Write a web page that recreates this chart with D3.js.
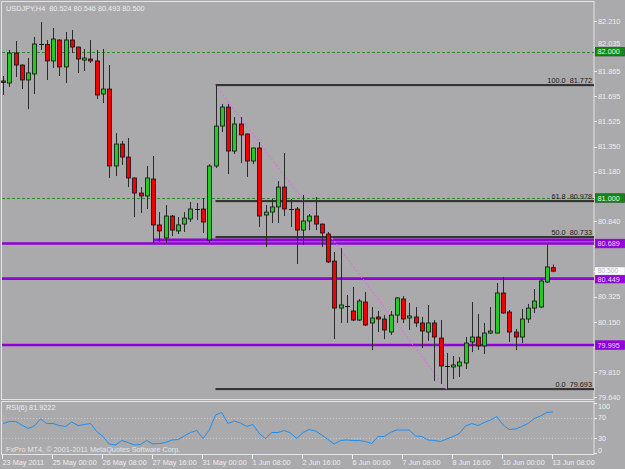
<!DOCTYPE html>
<html>
<head>
<meta charset="utf-8">
<script src="https://cdn.jsdelivr.net/npm/d3@7"></script>
<style>
  body { margin: 0; background: #aaa9ab; }
  svg { display: block; }
</style>
</head>
<body>
<div id="chart"></div>
<script>
// USDJPY H4, first bar 23 May 2011 16:00
const opens = [81.800,81.786,81.991,81.909,81.807,81.848,82.053,82.050,81.937,82.080,
  81.896,82.080,82.032,81.943,81.950,81.937,81.711,81.745,81.219,81.369,
  81.280,81.137,81.034,81.014,81.130,80.816,80.727,80.877,80.775,80.822,
  80.857,80.925,80.925,80.713,81.219,81.492,81.622,81.321,81.506,81.438,
  81.253,81.342,80.884,80.904,80.939,81.075,80.925,80.925,80.781,80.843,
  80.877,80.822,80.754,80.569,80.248,80.262,80.228,80.166,80.289,80.146,
  80.187,80.173,80.084,80.200,80.310,80.180,80.187,80.146,80.084,80.146,
  80.043,79.852,79.845,79.852,79.872,80.016,80.050,79.989,80.077,80.077,
  80.351,80.221,80.084,80.050,80.173,80.248,80.255,80.426,80.524];
const highs = [81.834,82.012,82.073,81.915,81.957,82.101,82.203,82.080,82.162,82.085,
  82.135,82.148,82.035,82.019,82.080,82.012,82.019,81.909,81.444,81.390,
  81.410,81.140,81.075,81.219,81.287,80.904,80.952,80.884,80.870,80.904,
  80.973,80.966,81.000,81.232,81.772,81.643,81.643,81.554,81.554,81.440,
  81.345,81.383,80.952,80.993,81.116,81.308,80.993,80.939,81.021,80.891,
  81.007,80.825,80.768,80.631,80.658,80.337,80.392,80.310,80.358,80.255,
  80.228,80.200,80.228,80.323,80.330,80.283,80.255,80.187,80.269,80.166,
  80.166,79.941,79.920,79.913,80.050,80.289,80.207,80.146,80.255,80.419,
  80.460,80.235,80.105,80.241,80.276,80.378,80.447,80.685,80.546];
const lows = [81.704,81.759,81.827,81.745,81.608,81.711,82.012,81.807,81.889,81.834,
  81.786,81.991,81.855,81.868,81.923,81.677,81.649,81.137,81.150,81.226,
  81.075,80.870,80.898,80.925,80.693,80.699,80.693,80.740,80.754,80.768,
  80.836,80.850,80.761,80.693,81.205,81.451,81.164,81.301,81.239,81.144,
  81.232,80.802,80.665,80.829,80.829,80.877,80.802,80.549,80.679,80.781,
  80.781,80.665,80.556,80.036,80.146,80.146,80.159,80.159,80.125,79.961,
  80.084,80.036,80.064,80.146,80.146,80.098,80.118,79.975,80.023,79.749,
  79.729,79.693,79.763,79.777,79.831,79.947,79.961,79.934,80.071,80.074,
  80.210,80.016,79.961,80.009,80.146,80.214,80.248,80.419,80.493];
const closes = [81.790,81.991,81.909,81.807,81.855,82.053,82.050,81.937,82.087,81.896,
  82.080,82.032,81.950,81.957,81.937,81.704,81.745,81.219,81.369,81.280,
  81.137,81.034,81.014,81.137,80.816,80.775,80.877,80.781,80.816,80.863,
  80.925,80.922,80.836,81.219,81.492,81.622,81.321,81.506,81.431,81.253,
  81.342,80.877,80.904,80.939,81.075,80.925,80.922,80.781,80.843,80.877,
  80.822,80.761,80.563,80.248,80.269,80.259,80.166,80.296,80.132,80.180,
  80.173,80.098,80.200,80.317,80.173,80.194,80.146,80.091,80.146,80.050,
  79.852,79.848,79.859,79.879,80.009,80.050,79.989,80.077,80.091,80.351,
  80.214,80.084,80.050,80.173,80.248,80.296,80.433,80.529,80.500];
const rsiValues = [59,63,63,56,49,54,68,59,59,55,53,62,55,57,59,43,33,18,16,25,
  21,16,17,25,18,19,21,26,27,34,41,45,29,46,76,81,59,64,60,53,
  57,39,29,41,41,45,40,29,41,47,44,36,27,18,25,26,25,25,23,19,
  33,33,41,46,46,46,34,33,26,25,23,28,33,39,54,59,55,61,66,73,
  56,47,48,53,59,69,74,81,81.9222];

// tick labels; the ones hidden behind level boxes only get a tick mark
const priceTicks = [82.210,82.035,81.865,81.695,81.525,81.350,81.180,81.010,80.840,
  80.670,80.500,80.325,80.150,79.980,79.810,79.640];
const hiddenTicks = [81.010,80.670,80.500,79.980];
const timeTickBars = [0,8,16,24,32,40,48,56,64,72,80,88];
const timeTickLabels = ["23 May 2011","25 May 00:00","26 May 08:00","27 May 16:00",
  "31 May 00:00","1 Jun 08:00","2 Jun 16:00","6 Jun 00:00","7 Jun 08:00",
  "8 Jun 16:00","10 Jun 00:00","13 Jun 08:00"];
const rsiTicks = [100,70,30,0];

const fibLevels = ["100.0","61.8","50.0","0.0"];
const fibPrices = [81.772,80.978,80.733,79.693];
const fibStartBar = 34, fibEndBar = 71;
const purpleLevels = [80.689,80.449,79.995];
const purpleRayBar = 24, purpleRayPrice = 80.713;
const greenLevels = [82.000,81.000];
const bidPrice = 80.500;

const width = 625, height = 469;
const font = "'Liberation Sans', Arial, sans-serif";
const textColor = "#efefef";

const svg = d3.select("#chart").append("svg")
  .attr("width", width).attr("height", height);

svg.append("rect").attr("width", width).attr("height", height).attr("fill", "#aaa9ab");

// scales
const x = d3.scaleLinear().domain([0, 88]).range([3, 553]);
const y = d3.scaleLinear().domain([79.640, 82.210]).range([397, 21]);
const r = d3.scaleLinear().domain([0, 100]).range([453, 403]);
const px = v => Math.round(v) + 0.5;

const right = 594;

// panel frames
svg.append("rect").attr("x", 1.5).attr("y", 1.5).attr("width", right - 1.5).attr("height", 398)
  .attr("fill", "none").attr("stroke", "#e4e4e4");
svg.append("rect").attr("x", 1.5).attr("y", 401.5).attr("width", right - 1.5).attr("height", 53)
  .attr("fill", "none").attr("stroke", "#e4e4e4");

// green dashed levels
greenLevels.forEach(p => {
  svg.append("line").attr("x1", 2).attr("x2", right).attr("y1", px(y(p))).attr("y2", px(y(p)))
    .attr("stroke", "#2f8a2f").attr("stroke-dasharray", "3,2");
});

// fibo lines
fibPrices.forEach((p, k) => {
  const yy = Math.round(y(p));
  svg.append("line").attr("x1", x(fibStartBar)).attr("x2", right).attr("y1", yy + 1).attr("y2", yy + 1)
    .attr("stroke", "#8a8a8a").attr("stroke-width", 1);
  svg.append("line").attr("x1", x(fibStartBar)).attr("x2", right).attr("y1", yy).attr("y2", yy)
    .attr("stroke", "#111").attr("stroke-width", 1.3);
  svg.append("text").attr("x", 592).attr("y", yy - 2)
    .attr("text-anchor", "end").attr("font-family", font).attr("font-size", 7.3)
    .attr("fill", "#1a1a1a").attr("xml:space", "preserve")
    .text(fibLevels[k] + "  " + p.toFixed(3));
});

// purple horizontal lines
purpleLevels.forEach(p => {
  svg.append("line").attr("x1", 2).attr("x2", right).attr("y1", y(p)).attr("y2", y(p))
    .attr("stroke", "#9000d8").attr("stroke-width", 2.6);
});
svg.append("line").attr("x1", x(purpleRayBar)).attr("x2", right)
  .attr("y1", y(purpleRayPrice)).attr("y2", y(purpleRayPrice))
  .attr("stroke", "#9000d8").attr("stroke-width", 3);

// fibo trend (dotted diagonal)
svg.append("line")
  .attr("x1", x(fibStartBar)).attr("y1", y(fibPrices[0]))
  .attr("x2", x(fibEndBar)).attr("y2", y(fibPrices[3]))
  .attr("stroke", "#e070e8").attr("stroke-width", 1.2).attr("stroke-dasharray", "2,2");

// candles
const bars = opens.map((o, i) => ({ i, o, h: highs[i], l: lows[i], c: closes[i] }));
const cg = svg.append("g");
bars.forEach(d => {
  const cx = px(x(d.i));
  cg.append("line").attr("x1", cx).attr("x2", cx).attr("y1", y(d.h)).attr("y2", y(d.l))
    .attr("stroke", "#2a2a2a").attr("stroke-width", 1);
  const top = y(Math.max(d.o, d.c)), bot = y(Math.min(d.o, d.c));
  if (bot - top < 1.2) {
    cg.append("line").attr("x1", cx - 2.5).attr("x2", cx + 2.5).attr("y1", px(top)).attr("y2", px(top))
      .attr("stroke", "#111").attr("stroke-width", 1);
  } else {
    cg.append("rect").attr("x", cx - 2).attr("y", top).attr("width", 4).attr("height", bot - top)
      .attr("fill", d.c > d.o ? "#26c926" : "#f00000")
      .attr("stroke", "#111").attr("stroke-width", 0.8);
  }
});

// right price axis
priceTicks.forEach(p => {
  const yy = y(p);
  svg.append("line").attr("x1", right).attr("x2", right + 3).attr("y1", px(yy)).attr("y2", px(yy))
    .attr("stroke", textColor);
  if (hiddenTicks.includes(p)) return;
  // 82.035 sits just above the 82.000 box
  const dy = p === 82.035 ? -1 : 2.6;
  svg.append("text").attr("x", 598).attr("y", yy + dy)
    .attr("font-family", font).attr("font-size", 7.3).attr("fill", textColor)
    .text(p.toFixed(3));
});

// level labels on the price axis
function priceBox(p, fill, stroke, color, h, fs, dy) {
  const yy = y(p);
  svg.append("rect").attr("x", 595.5).attr("y", yy - h / 2).attr("width", 29).attr("height", h)
    .attr("fill", fill).attr("stroke", stroke).attr("stroke-width", 0.8);
  svg.append("text").attr("x", 597.5).attr("y", yy + dy)
    .attr("font-family", font).attr("font-size", fs).attr("fill", color)
    .text(p.toFixed(3));
}
greenLevels.forEach(p => priceBox(p, "#0f8a0f", "#2a5a2a", textColor, 8.5, 7.3, 2.6));
purpleLevels.forEach(p => priceBox(p, "#9000d8", "#9000d8", "#e8dcef", 8.5, 7.3, p === 80.449 ? 3.2 : 2.6));
priceBox(bidPrice, "#ffffff", "#f4f4f4", "#b4b4b4", 7, 6.8, 1.8);

// header
svg.append("text").attr("x", 6).attr("y", 11)
  .attr("font-family", font).attr("font-size", 7.3).attr("fill", textColor)
  .attr("xml:space", "preserve")
  .text("USDJPY,H4  " + [opens[88], highs[88], lows[88], closes[88]].map(v => v.toFixed(3)).join(" "));

// RSI panel
[70, 30].forEach(v => {
  svg.append("line").attr("x1", 3).attr("x2", right).attr("y1", px(r(v))).attr("y2", px(r(v)))
    .attr("stroke", "#c9c9cb").attr("stroke-dasharray", "1,2");
});
svg.append("path").datum(rsiValues)
  .attr("fill", "none").attr("stroke", "#1e8ff0").attr("stroke-width", 1)
  .attr("d", d3.line().x((d, i) => x(i)).y(d => r(d)));

rsiTicks.forEach(v => {
  svg.append("line").attr("x1", right).attr("x2", right + 3).attr("y1", px(r(v))).attr("y2", px(r(v)))
    .attr("stroke", textColor);
});
const rsiLabelY = [406, 417, 438, 450];
rsiTicks.forEach((v, k) => {
  svg.append("text").attr("x", 598).attr("y", rsiLabelY[k] + 2.6)
    .attr("font-family", font).attr("font-size", 7.3).attr("fill", textColor).text(v);
});

svg.append("text").attr("x", 6).attr("y", 410)
  .attr("font-family", font).attr("font-size", 7.3).attr("fill", textColor)
  .text("RSI(6) " + rsiValues[88].toFixed(4));
svg.append("text").attr("x", 6).attr("y", 452)
  .attr("font-family", font).attr("font-size", 7.3).attr("fill", "#e6e6e6")
  .text("FxPro MT4, \u00a9 2001-2011 MetaQuotes Software Corp.");

// time axis
timeTickBars.forEach((b, k) => {
  const tx = px(x(b) - 1);
  svg.append("line").attr("x1", tx).attr("x2", tx).attr("y1", 455).attr("y2", 459)
    .attr("stroke", textColor);
  svg.append("text").attr("x", x(b) - 0.5).attr("y", 465)
    .attr("font-family", font).attr("font-size", 7.3).attr("fill", textColor)
    .text(timeTickLabels[k]);
});
</script>
</body>
</html>
